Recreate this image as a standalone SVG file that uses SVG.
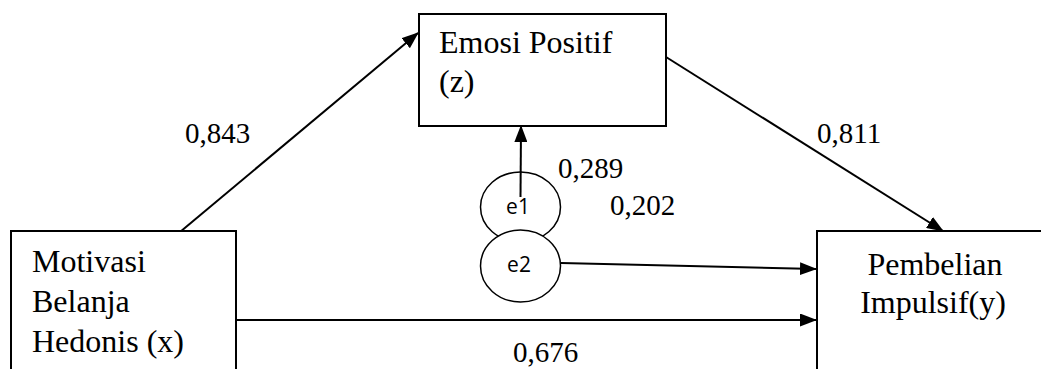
<svg xmlns="http://www.w3.org/2000/svg" width="1041" height="369" viewBox="0 0 1041 369">
<defs>
<marker id="ah" viewBox="0 0 17 13" refX="16" refY="6.5" markerWidth="17" markerHeight="13" markerUnits="userSpaceOnUse" orient="auto">
<path d="M0,0 L17,6.5 L0,13 Z" fill="#000"/>
</marker>
</defs>
<style>
.box{fill:#fff;stroke:#000;stroke-width:2}
.ell{fill:#fff;stroke:#000;stroke-width:1.5}
.t{font-family:"Liberation Serif","Times New Roman",serif;font-size:32px;fill:#000}
.n{font-family:"Liberation Serif","Times New Roman",serif;font-size:29px;fill:#000}
.e{font-family:"Open Sans","Noto Sans","Liberation Sans",sans-serif;font-size:21px;fill:#000}
.c{stroke:#000;stroke-width:2;fill:none;marker-end:url(#ah)}
</style>
<rect width="1041" height="369" fill="#fff"/>
<g id="connectors">
<line class="c" x1="180" y1="232" x2="418" y2="33"/>
<line class="c" x1="666" y1="57" x2="943" y2="231"/>
<line class="c" x1="236" y1="320" x2="816" y2="320"/>
<line class="c" x1="561" y1="263" x2="816" y2="269"/>
</g>
<g id="node-z">
<rect class="box" x="419" y="14" width="247" height="112"/>
<text class="t" x="439" y="53">Emosi Positif</text>
<text class="t" x="439" y="92">(z)</text>
</g>
<g id="node-x">
<rect class="box" x="11" y="231" width="225" height="150"/>
<text class="t" x="32" y="272">Motivasi</text>
<text class="t" x="32" y="312">Belanja</text>
<text class="t" x="32" y="352">Hedonis (x)</text>
</g>
<g id="node-y">
<rect class="box" x="817" y="231" width="240" height="150"/>
<text class="t" x="935" y="275" text-anchor="middle">Pembelian</text>
<text class="t" x="933" y="313" text-anchor="middle">Impulsif(y)</text>
</g>
<g id="node-e1">
<ellipse class="ell" cx="520.5" cy="207" rx="40" ry="35"/>
<text class="e" x="518" y="214" text-anchor="middle">e1</text>
</g>
<g id="node-e2">
<ellipse class="ell" cx="520.5" cy="266" rx="40" ry="36"/>
<text class="e" x="519" y="272" text-anchor="middle">e2</text>
</g>
<g id="connector-e1">
<line class="c" x1="520.5" y1="197" x2="521" y2="126"/>
</g>
<g id="labels">
<text class="n" x="185" y="143">0,843</text>
<text class="n" x="817" y="143">0,811</text>
<text class="n" x="558" y="178">0,289</text>
<text class="n" x="610" y="215">0,202</text>
<text class="n" x="513" y="362">0,676</text>
</g>
</svg>
